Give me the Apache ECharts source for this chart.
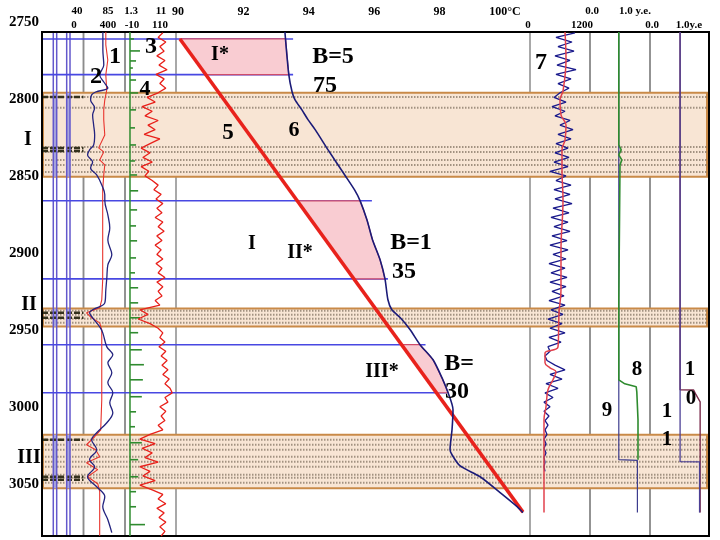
<!DOCTYPE html>
<html><head><meta charset="utf-8">
<script src="https://cdn.jsdelivr.net/npm/echarts@6/dist/echarts.min.js"></script>
<style>html,body{margin:0;padding:0;background:#fff}#c{width:720px;height:540px}</style>
</head><body><div id="c"></div>
<script>
// ================= DATA =================
const depthTicks = [2800, 2850, 2900, 2950, 3000, 3050];
const topDepthLabel = '2750';
const tempTicks = [90, 92, 94, 96, 98, 100];
const headerTopTexts = ['40', '85', '1.3', '11', '0.0', '1.0 y.e.'];
const headerBottomTexts = ['0', '400', '-10', '110', '0', '1200', '0.0', '1.0y.e'];
const zoneNames = ['I', 'II', 'III'];
const zoneTop = [2796.0, 2936.2, 3018.2];
const zoneBottom = [2850.5, 2947.9, 3053.0];
const zoneDotRows = [2798.7, 2805.8, 2831.2, 2834.4, 2839.6, 2842.9, 2847.4,
  2937.7, 2940.3, 2942.9, 2945.5,
  3021.4, 3024.7, 3027.9, 3032.5, 3035.7, 3039.0, 3044.2, 3046.1, 3049.4];
const lithDarkRows = [2798.7, 2831.8, 2833.8, 2939.0, 2942.2, 3021.4, 3045.5, 3047.4];
const starNames = ['I*', 'II*', 'III*'];
const starTop = [2761.0, 2866.2, 2959.7];
const starBottom = [2784.2, 2916.9, 2990.9];
const blueLineDepth = [2761.0, 2784.2, 2866.2, 2916.9, 2959.7, 2990.9];
const blueLineEndTemp = [93.52, 93.52, 95.93, 96.42, 97.57, 98.22];
const markerTexts = ['1', '2', '3', '4', '5', '6', 'I*', 'B=5', '75', 'I', 'II*', 'B=1', '35', 'III*', 'B=', '30', '7', '8', '9', '1', '0', '1', '1'];

// curve 6: measured temperature (°C) vs depth
const tempDepth = [2756.5, 2784.4, 2795.5, 2800.6, 2807.1, 2813.6, 2820.1, 2833.1, 2849.4, 2859.1, 2866.2, 2878.6, 2891.6, 2904.5, 2916.9, 2930.5, 2937.0, 2942.2, 2950.0, 2959.7, 2969.5, 2982.5, 2990.9, 3001.9, 3014.9, 3027.9, 3031.2, 3038.3, 3045.5, 3055.8, 3064.9, 3068.8];
const tempValue = [93.27, 93.39, 93.49, 93.58, 93.79, 93.98, 94.20, 94.59, 95.10, 95.40, 95.57, 95.78, 95.95, 96.18, 96.33, 96.42, 96.54, 96.80, 97.10, 97.40, 97.80, 98.10, 98.26, 98.41, 98.38, 98.32, 98.38, 98.62, 99.24, 99.85, 100.37, 100.55];
// line 5: background geotherm
const line5Depth = [2761.0, 3068.5];
const line5Temp = [90.06, 100.55];

// curve 1 (0..400)
const curve1Depth = [2756.5, 2764.9, 2774.7, 2784.4, 2794.2, 2800.7, 2807.1, 2813.6, 2823.4, 2831.8, 2834.4, 2839.6, 2842.9, 2849.4, 2859.1, 2878.6, 2898.1, 2917.5, 2930.5, 2935.7, 2939.0, 2942.2, 2945.5, 2950.0, 2969.5, 2995.5, 3015.0, 3019.5, 3024.7, 3027.9, 3032.5, 3036.4, 3040.9, 3045.5, 3050.0, 3055.2, 3073.4, 3083.8];
const curve1Value = [215, 215, 234, 215, 224, 205, 195, 195, 205, 146, 195, 156, 205, 195, 185, 185, 185, 185, 176, 156, 29, 78, 156, 176, 176, 176, 166, 107, 29, 117, 156, 29, 137, 39, 137, 156, 156, 156];
// curve 2 (40..85)
const curve2Depth = [2756.5, 2768.2, 2777.9, 2784.4, 2789.0, 2792.9, 2795.5, 2797.4, 2800.7, 2805.8, 2810.4, 2816.9, 2823.4, 2829.9, 2833.1, 2836.4, 2840.9, 2844.8, 2849.4, 2855.9, 2862.3, 2866.2, 2875.3, 2883.8, 2891.6, 2901.3, 2907.8, 2916.2, 2924.0, 2932.5, 2937.0, 2939.0, 2942.2, 2948.1, 2952.0, 2961.1, 2966.3, 2971.5, 2977.9, 2984.4, 2990.9, 2997.4, 3003.9, 3010.4, 3016.9, 3021.4, 3027.9, 3034.4, 3039.0, 3045.5, 3052.0, 3058.5, 3064.9, 3073.4, 3081.8];
const curve2Value = [61, 61, 62, 57.6, 62, 66.4, 53.2, 48.8, 47.7, 52.1, 49.9, 51, 52.1, 51, 46.6, 44.4, 49.9, 47.7, 54.3, 59.8, 63.1, 63.1, 66.4, 68.5, 66.4, 70.7, 66.4, 65.3, 64.2, 63.1, 49.9, 46.6, 49.9, 57.6, 60.9, 65.3, 71.8, 66.4, 70.7, 66.4, 71.8, 68.5, 71.8, 65.3, 54.3, 48.8, 54.3, 46.6, 52.1, 44.4, 54.3, 63.1, 60.9, 66.4, 70.7];

// log sample depths for noisy curves 3 and 7
const logDepth = [2757,2760,2763,2766,2769,2772,2775,2778,2781,2784,2787,2790,2793,2796,2799,2802,2805,2808,2811,2814,2817,2820,2823,2826,2829,2832,2835,2838,2841,2844,2847,2850,2853,2856,2859,2862,2865,2868,2871,2874,2877,2880,2883,2886,2889,2892,2895,2898,2901,2904,2907,2910,2913,2916,2919,2922,2925,2928,2931,2934,2937,2940,2943,2946,2949,2952,2955,2958,2961,2964,2967,2970,2973,2976,2979,2982,2985,2988,2991,2994,2997,3000,3003,3006,3009,3012,3015,3018,3021,3024,3027,3030,3033,3036,3039,3042,3045,3048,3051,3054,3057,3060,3063,3066,3069,3072,3075,3078,3081,3084];
// curve 3 (-10..110)
const curve3Value = [79,68,86,72,82,65,84,70,89,63,82,72,86,68,
  42,61,30,54,37,68,44,61,35,72,49,28,49,32,54,28,46,37,
  54,68,58,75,63,79,65,77,61,79,68,82,65,77,61,75,65,79,63,77,68,84,65,79,68,77,61,72,
  25,44,21,49,
  68,79,72,84,70,86,75,89,77,91,79,94,84,96,101,84,91,72,86,75,84,68,79,
  49,25,61,30,54,37,68,25,49,32,61,25,
  54,79,68,86,65,82,70,86,72,84,75];
// curve 4 (1.3..11): base and tick marks
const curve4Base = 2.25;
const curve4TickDepth = [2761.0,2768.8,2775.3,2779.9,2787.7,2796.1,2807.1,2818.8,2829.9,2840.3,2849.4,2859.7,2872.1,2882.5,2892.2,2903.3,2913.0,2922.7,2932.5,2942.2,2951.9,2963.0,2972.7,2982.5,2993.5,3003.3,3013.0,3023.4,3034.4,3045.5,3055.2,3065.0,3076.6];
const curve4TickValue = [3.0,4.15,3.4,2.8,3.4,3.8,3.4,3.2,3.4,3.2,3.6,3.8,3.6,3.4,3.6,3.4,3.2,3.8,3.8,4.15,3.8,4.5,4.9,4.7,4.5,3.4,3.2,4.5,3.8,3.8,3.4,3.4,5.1];
// curve 7 (0..1200): raw and smoothed
const curve7Value = [900,520,840,560,880,500,800,540,920,520,820,560,780,600,
  480,720,440,700,500,800,600,860,560,820,520,760,500,780,480,760,400,720,
  520,820,480,800,500,840,460,780,420,760,480,800,440,740,400,760,460,720,380,700,420,740,400,720,440,680,380,700,
  420,660,360,640,400,700,380,620,360,400,300,340,500,700,400,640,320,560,300,460,280,400,280,380,300,360,300,340,280,320,280,320,280,300,280,300];
const curve7SmoothDepth = [2756.5,2774.7,2794.8,2800.6,2810.4,2816.9,2826.6,2833.1,2846.1,2865.6,2898.1,2924.0,2939.0,2961.1,2965.1,2971.5,2974.7,2977.3,2982.5,2989.0,3000.0,3008.4,3068.8];
const curve7SmoothValue = [700,720,660,600,620,720,700,640,640,660,620,620,580,560,300,300,400,520,460,360,320,280,280];
// curves 8, 9 (0..1 y.e.)
const curve8Depth = [2756.5,2829.9,2833.1,2836.4,2839.6,2842.9,2930.5,2982.5,2985.1,2987.0,2990.3,3008.4,3034.4];
const curve8Value = [0.48,0.48,0.52,0.48,0.53,0.50,0.48,0.48,0.58,0.77,0.78,0.80,0.80];
const curve9Depth = [2756.5,3034.4,3034.9,3068.8];
const curve9Value = [0.48,0.48,0.79,0.79];
// curves 10, 11 (0..1 y.e.)
const curve10Depth = [2756.5,2989.0,2989.1,2992.2,2996.8,3068.8];
const curve10Value = [0.51,0.51,0.74,0.78,0.85,0.85];
const curve11Depth = [2756.5,3035.7,3035.8,3068.8];
const curve11Value = [0.51,0.51,0.84,0.84];

// ================= LAYOUT / STYLE =================
const F = "'Liberation Serif','Times New Roman',serif";
const YMIN = 2756.5, YMAX = 3084;
const XMIN = 85.841, XMAX = 106.239;
const TOP = 32, H = 504;
const gridBox = [[42, 667], [42, 41.5], [83.5, 41.5], [125, 51], [530, 60], [590, 60], [650, 59]];
const lithColumns = [[0.272, 0.354], [0.595, 0.675]];
const headerTopX = [77, 108, 131, 161, 592, 635];
const headerBottomX = [74, 108, 132, 160, 528, 582, 652, 689];
const zoneLabelPos = [[28, 140], [29, 305], [29, 458]];
const markerLayout = [[115,57,24],[96,77,24],[151,47,24],[145,89,22],[228,133,23],[294,130,22],[220,55,20],[333,57,24],[325,86,24],[252,244,20],[300,253,20],[411,243,24],[404,272,24],[382,372,20],[459,364,24],[457,392,24],[541,63,24],[637,370,21],[607,411,21],[690,370,21],[691,399,21],[667,412,21],[667,440,21]];

function interp(ds, vs, d) {
  for (let i = 0; i < ds.length - 1; i++) {
    if (d >= ds[i] && d <= ds[i + 1]) { const t = (d - ds[i]) / (ds[i + 1] - ds[i]); return vs[i] + t * (vs[i + 1] - vs[i]); }
  }
  return vs[vs.length - 1];
}
function starPolygon(i) {
  const a = starTop[i], b = starBottom[i];
  const pts = [[interp(line5Depth, line5Temp, a), a], [interp(tempDepth, tempValue, a), a]];
  tempDepth.forEach((d, k) => { if (d > a && d < b) pts.push([tempValue[k], d]); });
  pts.push([interp(tempDepth, tempValue, b), b]);
  pts.push([interp(line5Depth, line5Temp, b), b]);
  return pts;
}

const grids = gridBox.map((g, i) => ({
  left: g[0], width: g[1], top: TOP, height: H, show: true, z: i === 0 ? 3 : 0,
  borderColor: i === 0 ? '#000' : '#8c8c8c', borderWidth: i === 0 ? 2 : 1.5, backgroundColor: 'transparent'
}));
const yAxes = gridBox.map((g, i) => ({
  gridIndex: i, type: 'value', inverse: true, min: YMIN, max: YMAX, show: i === 0,
  axisLine: { show: true, lineStyle: { color: '#000', width: 2 } },
  axisTick: { show: false }, splitLine: { show: false },
  axisLabel: { customValues: depthTicks, margin: 3, color: '#000', fontFamily: F, fontWeight: 'bold', fontSize: 15,
    formatter: v => String(v) }
}));
const hiddenX = (gi, min, max) => ({ gridIndex: gi, type: 'value', min, max, show: false, splitLine: { show: false } });
const xAxes = [
  { gridIndex: 0, type: 'value', position: 'top', min: XMIN, max: XMAX,
    axisLine: { show: false }, axisTick: { show: false }, splitLine: { show: false },
    axisLabel: { customValues: tempTicks, margin: 14, color: '#000', fontFamily: F, fontWeight: 'bold', fontSize: 12,
      formatter: v => v === 100 ? '100°C' : String(v) } },
  hiddenX(1, 0, 1), hiddenX(2, 40, 85), hiddenX(2, 0, 400), hiddenX(3, 1.3, 11), hiddenX(3, -10, 110),
  hiddenX(4, 0, 1200), hiddenX(5, 0, 1), hiddenX(6, 0, 1)
];

const lineS = (xi, yi, xs, ds, color, width, z, extra) => Object.assign({
  type: 'line', xAxisIndex: xi, yAxisIndex: yi, data: xs.map((v, i) => [v, ds[i]]),
  symbol: 'none', lineStyle: { color, width }, z, silent: true
}, extra || {});
const customS = (xi, yi, data, render, z) => ({ type: 'custom', xAxisIndex: xi, yAxisIndex: yi, data, renderItem: render, z, silent: true });
const hline = (api, x1, x2, d, style) => { const a = api.coord([x1, d]), b = api.coord([x2, d]); return { type: 'line', shape: { x1: a[0], y1: a[1], x2: b[0], y2: b[1] }, style }; };
const lithLineX = [].concat(...lithColumns);

const series = [
  // zone bands
  customS(0, 0, zoneTop.map((t, i) => [96, (t + zoneBottom[i]) / 2]), (p, api) => {
    const i = p.dataIndex; const a = api.coord([XMIN, zoneTop[i]]), b = api.coord([XMAX, zoneBottom[i]]);
    return { type: 'rect', shape: { x: a[0] + 1, y: a[1], width: b[0] - a[0] - 3, height: b[1] - a[1] }, style: { fill: '#f8e5d4', stroke: '#c98a48', lineWidth: 2 } };
  }, 1),
  // dotted rows in zones
  customS(0, 0, zoneDotRows.map(d => [96, d]), (p, api) => hline(api, XMIN, XMAX, zoneDotRows[p.dataIndex], { stroke: '#857565', lineWidth: 2, lineDash: [1.5, 1.5], opacity: 0.75 }), 1.5),
  // lithology columns
  customS(1, 1, [].concat(...zoneTop.map(() => lithColumns.map(() => [0.5, YMIN]))), (p, api) => {
    const zi = Math.floor(p.dataIndex / lithColumns.length), ci = p.dataIndex % lithColumns.length;
    const a = api.coord([lithColumns[ci][0], zoneTop[zi]]), b = api.coord([lithColumns[ci][1], zoneBottom[zi]]);
    return { type: 'rect', shape: { x: a[0], y: a[1], width: b[0] - a[0], height: b[1] - a[1] }, style: { fill: '#a9a6dc' } };
  }, 2),
  customS(1, 1, lithDarkRows.map(d => [0.5, d]), (p, api) => hline(api, 0, 1, lithDarkRows[p.dataIndex], { stroke: '#35321e', lineWidth: 2.5, lineDash: [6, 2] }), 2.2),
  customS(1, 1, lithLineX.map(x => [x, 2900]), (p, api) => {
    const x = lithLineX[p.dataIndex]; const a = api.coord([x, YMIN]), b = api.coord([x, YMAX]);
    return { type: 'line', shape: { x1: a[0], y1: a[1], x2: b[0], y2: b[1] }, style: { stroke: '#6358cc', lineWidth: 1.5 } };
  }, 2.4),
  // blue horizontal lines
  customS(0, 0, blueLineDepth.map((d, i) => [blueLineEndTemp[i], d]), (p, api) => hline(api, XMIN, blueLineEndTemp[p.dataIndex], blueLineDepth[p.dataIndex], { stroke: '#4848e2', lineWidth: 1.6 }), 2.5),
  // pink anomaly areas
  customS(0, 0, starTop.map((t, i) => [95, t]), (p, api) => ({
    type: 'polygon', shape: { points: starPolygon(p.dataIndex).map(pt => api.coord(pt)) },
    style: { fill: '#f9ccd2', stroke: '#cf4c6a', lineWidth: 1.2 }
  }), 3),
  // geotherm line 5
  lineS(0, 0, line5Temp, line5Depth, '#e8221c', 3.5, 4),
  // curve 6
  lineS(0, 0, tempValue, tempDepth, '#1b1b78', 1.6, 4.5, { smooth: 0.25 }),
  // curves 1 and 2
  lineS(3, 2, curve1Value, curve1Depth, '#e8332c', 1.1, 3),
  lineS(2, 2, curve2Value, curve2Depth, '#23237f', 1.3, 3.2, { smooth: 0.35 }),
  // curve 4
  lineS(4, 3, [curve4Base, curve4Base], [YMIN, YMAX], '#2e8b2e', 1.5, 3),
  customS(4, 3, curve4TickDepth.map((d, i) => [curve4TickValue[i], d]), (p, api) => hline(api, curve4Base, curve4TickValue[p.dataIndex], curve4TickDepth[p.dataIndex], { stroke: '#2e8b2e', lineWidth: 1.6 }), 3),
  // curve 3
  lineS(5, 3, curve3Value, logDepth, '#e8201a', 1.3, 3),
  // curve 7
  lineS(6, 4, curve7Value, logDepth, '#1a1a8c', 1.3, 3),
  lineS(6, 4, curve7SmoothValue, curve7SmoothDepth, '#e2404c', 1.5, 3.2, { smooth: 0.4 }),
  // curves 9, 8
  lineS(7, 5, curve9Value, curve9Depth, '#3c3c8e', 1.2, 3),
  lineS(7, 5, curve8Value, curve8Depth, '#2e8b2e', 1.6, 3.2),
  // curves 10, 11
  lineS(8, 6, curve10Value, curve10Depth, '#7b2d4d', 1.4, 3),
  lineS(8, 6, curve11Value, curve11Depth, '#4b3f95', 1.3, 3.2)
];

const txt = (text, x, y, size, align) => ({ type: 'text', z: 20, silent: true,
  style: { text, x, y, font: 'bold ' + size + 'px ' + F, fill: '#000', textAlign: align || 'center', textVerticalAlign: 'middle' } });
const graphics = [];
graphics.push(txt(topDepthLabel, 39, 22, 15, 'right'));
headerTopTexts.forEach((t, i) => graphics.push(txt(t, headerTopX[i], 11, 11)));
headerBottomTexts.forEach((t, i) => graphics.push(txt(t, headerBottomX[i], 25, 11)));
zoneNames.forEach((t, i) => graphics.push(txt(t, zoneLabelPos[i][0], zoneLabelPos[i][1], 20)));
markerTexts.forEach((t, i) => graphics.push(txt(t, markerLayout[i][0], markerLayout[i][1], markerLayout[i][2])));

const chart = echarts.init(document.getElementById('c'));
chart.setOption({
  animation: false,
  backgroundColor: '#fff',
  grid: grids, xAxis: xAxes, yAxis: yAxes, series,
  graphic: { elements: graphics }
});
</script></body></html>
